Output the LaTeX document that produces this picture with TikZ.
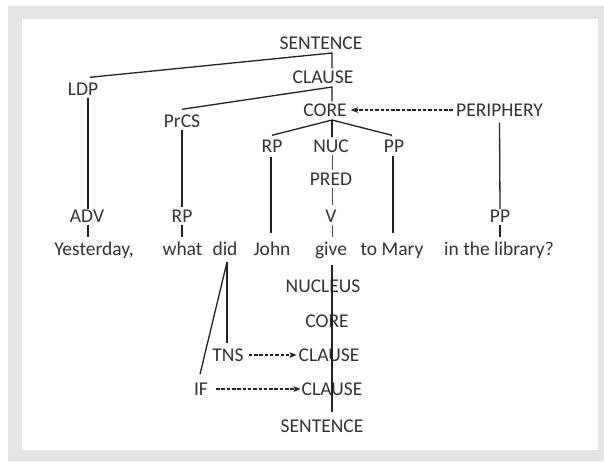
\documentclass[tikz,border=0pt]{standalone}
\usepackage{fontspec}
\setmainfont{Carlito}
\usetikzlibrary{arrows.meta}
\definecolor{txt}{HTML}{333333}
\definecolor{ln}{HTML}{222222}
\definecolor{frame}{HTML}{E4E4E4}
\begin{document}
\begin{tikzpicture}[x=1pt,y=-1pt,
  lab/.style={inner xsep=0pt,inner ysep=2.5pt,text height=12pt,text depth=0pt,
    font=\fontsize{19.5}{22}\selectfont,text=txt,anchor=base},
  tree/.style={draw=ln,line width=1.3pt},
  thin/.style={draw=ln!80,line width=0.9pt},
  thick/.style={draw=ln,line width=2.4pt},
  dasharrow/.style={draw=ln,line width=1.1pt,dash pattern=on 3.5pt off 1.8pt,
    -{Stealth[length=7pt,width=5.5pt,inset=1.5pt]}}]
\useasboundingbox (0,0) rectangle (604,461);
\fill[white] (0,0) rectangle (604,461);
\fill[frame] (8,6) rectangle (604,461);
\fill[white] (22,19) rectangle (598,450);

% upper tree
\node[lab] (sent) at (321,49) {SENTENCE};
\node[lab] (clause) at (323,83) {CLAUSE};
\node[lab] (ldp) at (83,95) {LDP};
\node[lab] (core) at (325,116) {CORE};
\node[lab] (periph) at (499.5,116) {PERIPHERY};
\node[lab] (prcs) at (182,127) {PrCS};
\node[lab] (rp1) at (272,152) {RP};
\node[lab] (nuc) at (331,152) {NUC};
\node[lab] (pp1) at (394,152) {PP};
\node[lab] (pred) at (331,185) {PRED};
\node[lab] (adv) at (87,222) {ADV};
\node[lab] (rp2) at (182,222) {RP};
\node[lab] (v) at (331,222) {V};
\node[lab] (pp2) at (500,222) {PP};

% words
\node[lab] (yest) at (94,255) {Yesterday,};
\node[lab] (what) at (182.5,255) {what};
\node[lab] (did) at (225,255) {did};
\node[lab] (john) at (272,255) {John};
\node[lab] (give) at (331,255) {give};
\node[lab] (mary) at (392,255) {to Mary};
\node[lab] (lib) at (499,255) {in the library?};

% lower tree
\node[lab] (nucleus) at (323,292) {NUCLEUS};
\node[lab] (core2) at (327,327) {CORE};
\node[lab] (clause2) at (329,361) {CLAUSE};
\node[lab] (tns) at (228,361) {TNS};
\node[lab] (if) at (201,395) {IF};
\node[lab] (clause3) at (332,395) {CLAUSE};
\node[lab] (sent2) at (322,432) {SENTENCE};

% junctions
\coordinate (j1) at (332,53);
\coordinate (j2) at (332,87);
\coordinate (j3) at (332,120);
\coordinate (dj) at (227,262);

\draw[tree] ([xshift=7pt,yshift=3pt]ldp.north) -- (j1) -- (j1 |- clause.north);
\draw[tree] ([yshift=3pt]prcs.north) -- (j2) -- (j2 |- core.north);
\draw[tree] ([yshift=2pt]rp1.north) -- (j3) -- ([xshift=-2pt,yshift=2pt]pp1.north);
\draw[tree] (j3) -- (j3 |- nuc.north);

\draw[tree] ([xshift=5pt]ldp.south) -- ([xshift=1pt,yshift=-2pt]adv.north);
\draw[tree] ([xshift=1pt]adv.south) -- ([xshift=1pt,yshift=3pt]adv.south |- yest.north);
\draw[tree] (prcs.south) -- (rp2.north);
\draw[tree] (rp2.south) -- ([yshift=3pt]rp2.south |- what.north);
\draw[tree] ([xshift=-1pt,yshift=-2pt]rp1.south) -- ([xshift=-1pt,yshift=7pt]rp1.south |- john.north);
\draw[tree] ([xshift=-1pt,yshift=-1pt]pp1.south) -- ([xshift=-1pt,yshift=7pt]pp1.south |- mary.north);
\draw[tree] ([yshift=-4pt]periph.south) -- ([yshift=-2pt]pp2.north);
\draw[tree] (pp2.south) -- ([yshift=3pt]pp2.south |- lib.north);

\draw[thin] ([xshift=1pt]nuc.south) -- ([xshift=1pt]pred.north);
\draw[thin] ([xshift=1pt]pred.south) -- ([xshift=1pt,yshift=2pt]v.north);
\draw[thin] ([xshift=1pt]v.south) -- ([xshift=1pt,yshift=3pt]v.south |- give.north);

\draw[thick] ([yshift=-7pt]j3 |- give.south) -- ([yshift=5pt]j3 |- sent2.north);

\draw[tree] (dj) -- ([yshift=3pt]dj |- tns.north);
\draw[tree] (dj) -- ([xshift=-1pt,yshift=6pt]if.north);

\draw[dasharrow] ([xshift=-3pt]periph.west) -- ([xshift=4pt]core.east);
\draw[dasharrow] ([xshift=5pt]tns.east) -- ([xshift=-2pt]clause2.west);
\draw[dasharrow] ([xshift=8pt]if.east) -- ([xshift=-1pt]clause3.west);
\end{tikzpicture}
\end{document}
